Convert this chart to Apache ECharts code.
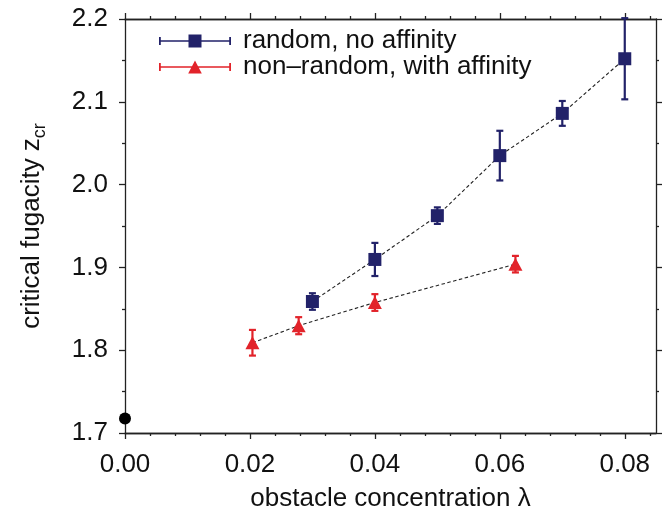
<!DOCTYPE html>
<html>
<head>
<meta charset="utf-8">
<script src="https://cdn.jsdelivr.net/npm/echarts@6/dist/echarts.min.js"></script>
<style>
html,body{margin:0;padding:0;background:#fff;}
#chart{width:670px;height:518px;}
</style>
</head>
<body>
<div id="chart"></div>
<script>
// ---- data ----
const randomX = [0.03, 0.04, 0.05, 0.06, 0.07, 0.08];
const randomY = [1.8588, 1.9096, 1.9625, 2.035, 2.086, 2.152];
const randomErr = [0.010, 0.020, 0.010, 0.030, 0.015, 0.049];

const affinityX = [0.0204, 0.0278, 0.040, 0.0625];
const affinityY = [1.809, 1.8296, 1.8576, 1.9039];
const affinityErr = [0.0155, 0.0103, 0.0101, 0.010];

const pureX = [0.0];
const pureY = [1.7174];

const xMajorTicks = [0, 0.02, 0.04, 0.06, 0.08];
const xMinorTicks = [0.004, 0.008, 0.012, 0.016, 0.024, 0.028, 0.032, 0.036, 0.044, 0.048, 0.052, 0.056, 0.064, 0.068, 0.072, 0.076, 0.084];
const xTickLabels = ['0.00', '0.02', '0.04', '0.06', '0.08'];
const yTickLabels = ['1.7', '1.8', '1.9', '2.0', '2.1', '2.2'];

const seriesNames = ['random, no affinity', 'non\u2013random, with affinity'];
const xTitle = 'obstacle concentration \u03bb';
const yTitle = 'critical fugacity z';
const ySub = 'cr';

// ---- style ----
const BLUE = '#222269';
const RED = '#e2232a';
const FONT = 'Liberation Sans';
const FS = 26;

const zip = (xs, ys, es) => xs.map((x, i) => es ? [x, ys[i], es[i]] : [x, ys[i]]);

function errorBars(color) {
  return function (params, api) {
    const x = api.value(0), y = api.value(1), e = api.value(2);
    const t = api.coord([x, y + e]);
    const b = api.coord([x, y - e]);
    const cw = 3.5;
    const st = { stroke: color, lineWidth: 2.2 };
    return {
      type: 'group',
      children: [
        { type: 'line', shape: { x1: t[0], y1: t[1], x2: b[0], y2: b[1] }, style: st },
        { type: 'line', shape: { x1: t[0] - cw, y1: t[1], x2: t[0] + cw, y2: t[1] }, style: st },
        { type: 'line', shape: { x1: b[0] - cw, y1: b[1], x2: b[0] + cw, y2: b[1] }, style: st }
      ]
    };
  };
}

const blueIcon = 'path://M0,2.5h1.8v8h-1.8z M70.2,2.5h1.8v8h-1.8z M0,5.7h72v1.6h-72z M29.5,0h13v13h-13z';
const redIcon = 'path://M0,2.5h1.8v8h-1.8z M70.2,2.5h1.8v8h-1.8z M0,5.7h72v1.6h-72z M36,0L42.8,13L29.2,13z';

const xRange = { min: 0, max: 0.085 };
const axisLineStyle = { color: '#222', width: 1.3 };

function xAxisDef(position, ticks, len, labels) {
  return {
    type: 'value', position: position, min: xRange.min, max: xRange.max,
    axisLine: { show: true, onZero: false, lineStyle: axisLineStyle },
    axisTick: { show: true, inside: false, length: len, customValues: ticks, lineStyle: axisLineStyle },
    axisLabel: labels ? {
      show: true, customValues: xMajorTicks, margin: 19,
      fontFamily: FONT, fontSize: FS, color: '#111',
      formatter: v => xTickLabels[xMajorTicks.findIndex(t => Math.abs(t - v) < 1e-9)] || ''
    } : { show: false },
    splitLine: { show: false }
  };
}

function yAxisDef(position, labels) {
  return {
    type: 'value', position: position, min: 1.7, max: 2.2, interval: 0.1,
    axisLine: { show: true, onZero: false, lineStyle: axisLineStyle },
    axisTick: { show: true, inside: false, length: 6, lineStyle: axisLineStyle },
    minorTick: { show: true, splitNumber: 2, length: 3, lineStyle: axisLineStyle },
    axisLabel: labels ? {
      show: true, margin: 17, fontFamily: FONT, fontSize: FS, color: '#111',
      formatter: v => yTickLabels[Math.round((v - 1.7) * 10)]
    } : { show: false },
    splitLine: { show: false }
  };
}

const chart = echarts.init(document.getElementById('chart'), null, { renderer: 'canvas' });

const xAxes = [
  xAxisDef('bottom', xMajorTicks, 6, true),
  xAxisDef('bottom', xMinorTicks, 3, false),
  xAxisDef('top', xMajorTicks, 6, false),
  xAxisDef('top', xMinorTicks, 3, false)
];
xAxes[0].name = xTitle;
xAxes[0].nameLocation = 'middle';
xAxes[0].nameGap = 53;
xAxes[0].nameTextStyle = { fontFamily: FONT, fontSize: FS, color: '#111' };

const yAxes = [yAxisDef('left', true), yAxisDef('right', false)];
yAxes[0].name = yTitle + '{sub|' + ySub + '}';
yAxes[0].nameLocation = 'middle';
yAxes[0].nameGap = 110;
yAxes[0].nameMoveOverlap = false;
yAxes[0].nameRotate = 90;
yAxes[0].nameTextStyle = {
  fontFamily: FONT, fontSize: FS, color: '#111', lineHeight: 26, verticalAlign: 'top',
  rich: { sub: { fontFamily: FONT, fontSize: 18, lineHeight: 34, verticalAlign: 'bottom', color: '#111' } }
};

chart.setOption({
  animation: false,
  backgroundColor: '#fff',
  grid: { left: 125, right: 14, top: 19, bottom: 85, containLabel: false },
  xAxis: xAxes,
  yAxis: yAxes,
  legend: {
    left: 154, top: 23, orient: 'vertical', itemWidth: 72, itemHeight: 13, itemGap: 0,
    selectedMode: false,
    textStyle: { fontFamily: FONT, fontSize: FS, color: '#111', lineHeight: 26, padding: [0, 0, 0, 7] },
    data: [
      { name: seriesNames[0], icon: blueIcon, itemStyle: { color: BLUE } },
      { name: seriesNames[1], icon: redIcon, itemStyle: { color: RED } }
    ]
  },
  series: [
    {
      name: 'randomLine', type: 'line', data: zip(randomX, randomY), symbol: 'none',
      lineStyle: { color: '#222', width: 1.1, type: [3.5, 2.5] }, z: 1, silent: true
    },
    {
      name: 'affinityLine', type: 'line', data: zip(affinityX, affinityY), symbol: 'none',
      lineStyle: { color: '#222', width: 1.1, type: [3.5, 2.5] }, z: 1, silent: true
    },
    {
      name: 'randomErr', type: 'custom', data: zip(randomX, randomY, randomErr),
      renderItem: errorBars(BLUE), z: 2, clip: false
    },
    {
      name: 'affinityErr', type: 'custom', data: zip(affinityX, affinityY, affinityErr),
      renderItem: errorBars(RED), z: 2, clip: false
    },
    {
      name: seriesNames[0], type: 'scatter', data: zip(randomX, randomY),
      symbol: 'rect', symbolSize: 13, itemStyle: { color: BLUE, opacity: 1 }, z: 3, clip: false
    },
    {
      name: seriesNames[1], type: 'scatter', data: zip(affinityX, affinityY),
      symbol: 'triangle', symbolSize: [14, 13], itemStyle: { color: RED, opacity: 1 }, z: 3, clip: false
    },
    {
      name: 'pure', type: 'scatter', data: zip(pureX, pureY),
      symbol: 'circle', symbolSize: 12, itemStyle: { color: '#000', opacity: 1 }, z: 4, clip: false
    }
  ]
});
</script>
</body>
</html>
